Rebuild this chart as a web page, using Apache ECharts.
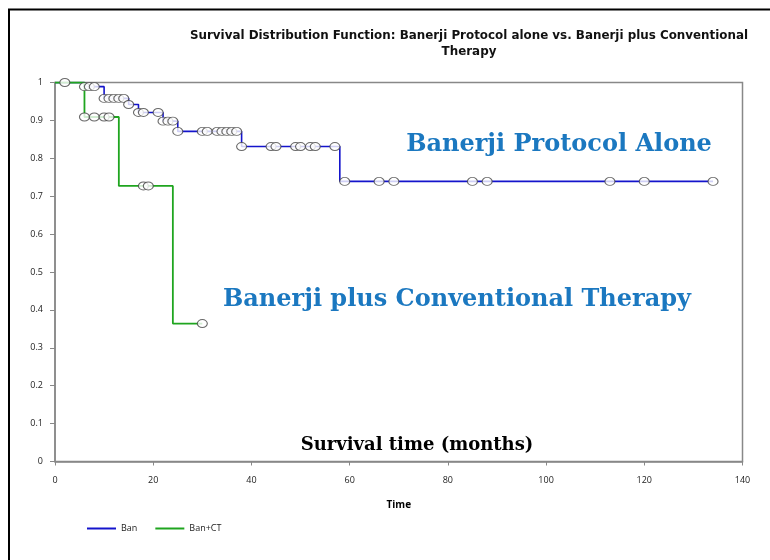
<!DOCTYPE html>
<html>
<head>
<meta charset="utf-8">
<script src="https://cdn.jsdelivr.net/npm/echarts@6/dist/echarts.min.js"></script>
<style>html,body{margin:0;padding:0;background:#fff}#c{width:770px;height:560px}</style>
</head>
<body>
<div id="c"></div>
<script>
// Kaplan-Meier step data (time, survival after event)
var banTimes = [0, 6, 10, 15, 17, 22, 25, 38, 58, 134];
var banSurv  = [1, 0.989, 0.958, 0.942, 0.921, 0.898, 0.871, 0.831, 0.739, 0.739];
var ctTimes  = [0, 6, 13, 24, 30];
var ctSurv   = [1, 0.909, 0.727, 0.364, 0.364];
// censored observation times
var banCensor = [2, 6, 7, 8, 10, 11, 12, 13, 14, 15, 17, 18, 21, 22, 23, 24, 25, 30, 31, 33, 34, 35, 36, 37, 38, 44, 45, 49, 50, 52, 53, 57, 59, 66, 69, 85, 88, 113, 120, 134];
var ctCensor  = [6, 8, 10, 11, 18, 19, 30];
var xTicks = [0, 20, 40, 60, 80, 100, 120, 140];

function survAt(times, surv, t) {
  var v = surv[0];
  for (var i = 0; i < times.length; i++) { if (times[i] <= t) v = surv[i]; }
  return v;
}
function zip(a, b) { return a.map(function (x, i) { return [x, b[i]]; }); }

var chart = echarts.init(document.getElementById('c'));
var markerStyle = { color: '#fff', borderColor: '#444', borderWidth: 1 };
chart.setOption({
  animation: false,
  textStyle: { fontFamily: 'Open Sans' },
  grid: { left: 55, right: 27.5, top: 82.5, bottom: 98.5, show: true, borderColor: '#888', borderWidth: 1.5, backgroundColor: 'transparent' },
  xAxis: {
    type: 'value', min: 0, max: 140, interval: 20,
    name: 'Time', nameLocation: 'middle', nameGap: 39,
    nameTextStyle: { fontWeight: 'bold', fontSize: 10, color: '#000', fontFamily: 'Open Sans' },
    axisLine: { lineStyle: { color: '#888', width: 1.5 } },
    axisTick: { length: 4, lineStyle: { color: '#888' } },
    axisLabel: { fontSize: 9, color: '#222', margin: 14 },
    splitLine: { show: false }
  },
  yAxis: {
    type: 'value', min: 0, max: 1, interval: 0.1,
    axisLine: { show: true, lineStyle: { color: '#888', width: 1.5 } },
    axisTick: { show: true, length: 5, lineStyle: { color: '#888' } },
    axisLabel: { fontSize: 9, color: '#222', margin: 12, formatter: function (v) { return (Math.round(v * 10) / 10).toString(); } },
    splitLine: { show: false }
  },
  legend: {
    data: ['Ban', 'Ban+CT'], left: 82, top: 519, icon: 'rect', itemWidth: 29, itemHeight: 2, itemGap: 18,
    textStyle: { fontSize: 9, color: '#222' }
  },
  graphic: [
    { type: 'rect', shape: { x: 9, y: 9.5, width: 820, height: 620 }, style: { fill: 'none', stroke: '#000', lineWidth: 2 }, silent: true },
    { type: 'text', style: { text: 'Survival Distribution Function: Banerji Protocol alone vs. Banerji plus Conventional\nTherapy', x: 469, y: 28, textAlign: 'center', font: 'bold 11.9px "DejaVu Sans"', fill: '#111', lineHeight: 16 } },
    { type: 'text', style: { text: 'Banerji Protocol Alone', x: 559, y: 145, textAlign: 'center', textVerticalAlign: 'middle', font: 'bold 24px "DejaVu Serif"', fill: '#1b78c0' } },
    { type: 'text', style: { text: 'Banerji plus Conventional Therapy', x: 457, y: 300, textAlign: 'center', textVerticalAlign: 'middle', font: 'bold 24px "DejaVu Serif"', fill: '#1b78c0' } },
    { type: 'text', style: { text: 'Survival time (months)', x: 417, y: 445, textAlign: 'center', textVerticalAlign: 'middle', font: 'bold 18px "DejaVu Serif"', fill: '#000' } }
  ],
  series: [
    { name: 'Ban', type: 'line', step: 'end', data: zip(banTimes, banSurv), showSymbol: false, symbol: 'none', color: '#1414cc', lineStyle: { color: '#1414cc', width: 1.6 }, z: 2 },
    { name: 'Ban+CT', type: 'line', step: 'end', data: zip(ctTimes, ctSurv), showSymbol: false, symbol: 'none', color: '#1fa51f', lineStyle: { color: '#1fa51f', width: 1.8 }, z: 3 },
    { name: 'banCens', type: 'scatter', symbol: 'circle', symbolSize: [10, 8], itemStyle: markerStyle, z: 5,
      data: banCensor.map(function (t) { return [t, survAt(banTimes, banSurv, t)]; }) },
    { name: 'ctCens', type: 'scatter', symbol: 'circle', symbolSize: [10, 8], itemStyle: markerStyle, z: 5,
      data: ctCensor.map(function (t) { return [t, survAt(ctTimes, ctSurv, t)]; }) }
  ]
});
</script>
</body>
</html>
